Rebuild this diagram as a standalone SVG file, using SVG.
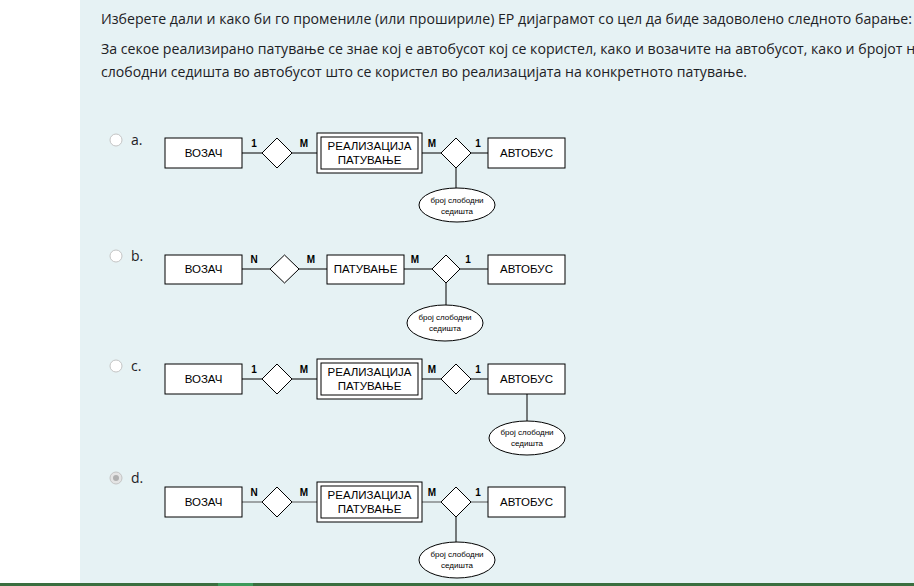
<svg xmlns="http://www.w3.org/2000/svg" width="914" height="586" viewBox="0 0 914 586">
<style>
.hdr{font-family:"Open Sans","Noto Sans",sans-serif;font-size:14px;fill:#1d2125}
.opt{font-family:"Open Sans","Noto Sans",sans-serif;font-size:14px;fill:#1d2125}
.ent{fill:#fff;stroke:#000;stroke-width:1}
.rel{fill:#fff;stroke:#000;stroke-width:1}
.t{font-family:"Liberation Sans",Arial,sans-serif;font-size:11.5px;fill:#000;text-anchor:middle}
.c{font-family:"Liberation Sans",Arial,sans-serif;font-size:10px;font-weight:bold;fill:#000;text-anchor:middle}
.s{font-family:"Liberation Sans",Arial,sans-serif;font-size:8px;fill:#000;text-anchor:middle}
.ln{stroke:#000;stroke-width:1;fill:none}
.lnd{stroke:#555;stroke-width:1;fill:none}
.radio{fill:#fff;stroke:#c4c4c4;stroke-width:1}
</style>
<rect x="0" y="0" width="914" height="586" fill="#fff"/>
<rect x="80" y="0" width="834" height="583" fill="#e6f2f4"/>
<rect x="0" y="583" width="914" height="3" fill="#3a6e3f"/>
<rect x="218" y="583" width="35" height="3" fill="#3d9a5a"/>

<g id="question">
<text class="hdr" x="101" y="24" textLength="811" lengthAdjust="spacingAndGlyphs">Изберете дали и како би го промениле (или прошириле) ЕР дијаграмот со цел да биде задоволено следното барање:</text>
<text class="hdr" x="101" y="54" textLength="822" lengthAdjust="spacingAndGlyphs">За секое реализирано патување се знае кој е автобусот кој се користел, како и возачите на автобусот, како и бројот на</text>
<text class="hdr" x="101" y="77" textLength="646" lengthAdjust="spacingAndGlyphs">слободни седишта во автобусот што се користел во реализацијата на конкретното патување.</text>
</g>

<g id="options">
<circle class="radio" cx="116" cy="140" r="6"/>
<text class="opt" x="131" y="145">a.</text>
<circle class="radio" cx="116" cy="256" r="6"/>
<text class="opt" x="131" y="261">b.</text>
<circle class="radio" cx="116" cy="366" r="6"/>
<text class="opt" x="131" y="371">c.</text>
<circle cx="116" cy="478" r="6" fill="#e4e4e4" stroke="#c4c4c4"/>
<circle cx="116" cy="478" r="3" fill="#b0b0b0"/>
<text class="opt" x="131" y="483">d.</text>
</g>

<!-- Diagram a -->
<g id="connectors-a">
<line class="ln" x1="242" y1="153" x2="262" y2="153"/>
<line class="ln" x1="292" y1="153" x2="317" y2="153"/>
<line class="ln" x1="422" y1="153" x2="441" y2="153"/>
<line class="ln" x1="471" y1="153" x2="488" y2="153"/>
<line class="ln" x1="456" y1="168" x2="456" y2="188"/>
<text class="c" x="254" y="147">1</text>
<text class="c" x="304" y="147">M</text>
<text class="c" x="432" y="147">M</text>
<text class="c" x="478" y="147">1</text>
</g>
<g id="a-vozac"><rect class="ent" x="165" y="138" width="77" height="30"/><text class="t" x="203.5" y="157">ВОЗАЧ</text></g>
<g id="a-rel1"><polygon class="rel" points="277,138 292,153 277,168 262,153"/></g>
<g id="a-realizacija"><rect class="ent" x="317" y="133" width="105" height="40"/><rect class="ent" x="321" y="137" width="97" height="32"/><text class="t" x="369.5" y="150">РЕАЛИЗАЦИЈА</text><text class="t" x="369.5" y="164">ПАТУВАЊЕ</text></g>
<g id="a-rel2"><polygon class="rel" points="456,138 471,153 456,168 441,153"/></g>
<g id="a-avtobus"><rect class="ent" x="488" y="138" width="77" height="30"/><text class="t" x="526.5" y="157">АВТОБУС</text></g>
<g id="a-attr"><ellipse class="ent" cx="457" cy="205" rx="38" ry="17"/><text class="s" x="457" y="203">број слободни</text><text class="s" x="457" y="214">седишта</text></g>

<!-- Diagram b -->
<g id="connectors-b">
<line class="ln" x1="242" y1="269" x2="270" y2="269"/>
<line class="ln" x1="299" y1="269" x2="327" y2="269"/>
<line class="ln" x1="404" y1="269" x2="432" y2="269"/>
<line class="ln" x1="460" y1="269" x2="488" y2="269"/>
<line class="ln" x1="446" y1="283" x2="446" y2="305"/>
<text class="c" x="254" y="263">N</text>
<text class="c" x="311" y="263">M</text>
<text class="c" x="415" y="263">M</text>
<text class="c" x="468" y="263">1</text>
</g>
<g id="b-vozac"><rect class="ent" x="165" y="255" width="77" height="29"/><text class="t" x="203.5" y="273">ВОЗАЧ</text></g>
<g id="b-rel1"><polygon class="rel" points="284.5,255 299,269 284.5,283 270,269"/></g>
<g id="b-patuvanje"><rect class="ent" x="327" y="255" width="77" height="29"/><text class="t" x="365.5" y="273">ПАТУВАЊЕ</text></g>
<g id="b-rel2"><polygon class="rel" points="446,255 460,269 446,283 432,269"/></g>
<g id="b-avtobus"><rect class="ent" x="488" y="255" width="77" height="29"/><text class="t" x="526.5" y="273">АВТОБУС</text></g>
<g id="b-attr"><ellipse class="ent" cx="445" cy="323" rx="38" ry="18"/><text class="s" x="445" y="320">број слободни</text><text class="s" x="445" y="331">седишта</text></g>

<!-- Diagram c -->
<g id="connectors-c">
<line class="ln" x1="242" y1="379" x2="262" y2="379"/>
<line class="ln" x1="292" y1="379" x2="317" y2="379"/>
<line class="ln" x1="422" y1="379" x2="441" y2="379"/>
<line class="ln" x1="471" y1="379" x2="488" y2="379"/>
<line class="ln" x1="527" y1="394" x2="527" y2="421"/>
<text class="c" x="254" y="373">1</text>
<text class="c" x="304" y="373">M</text>
<text class="c" x="432" y="373">M</text>
<text class="c" x="478" y="373">1</text>
</g>
<g id="c-vozac"><rect class="ent" x="165" y="364" width="77" height="30"/><text class="t" x="203.5" y="383">ВОЗАЧ</text></g>
<g id="c-rel1"><polygon class="rel" points="277,364 292,379 277,394 262,379"/></g>
<g id="c-realizacija"><rect class="ent" x="317" y="359" width="105" height="40"/><rect class="ent" x="321" y="363" width="97" height="32"/><text class="t" x="369.5" y="376">РЕАЛИЗАЦИЈА</text><text class="t" x="369.5" y="390">ПАТУВАЊЕ</text></g>
<g id="c-rel2"><polygon class="rel" points="456,364 471,379 456,394 441,379"/></g>
<g id="c-avtobus"><rect class="ent" x="488" y="364" width="77" height="30"/><text class="t" x="526.5" y="383">АВТОБУС</text></g>
<g id="c-attr"><ellipse class="ent" cx="527" cy="438" rx="38" ry="17"/><text class="s" x="527" y="435">број слободни</text><text class="s" x="527" y="446">седишта</text></g>

<!-- Diagram d -->
<g id="connectors-d">
<line class="lnd" x1="242" y1="502" x2="262" y2="502"/>
<line class="lnd" x1="292" y1="502" x2="317" y2="502"/>
<line class="lnd" x1="422" y1="502" x2="441" y2="502"/>
<line class="lnd" x1="471" y1="502" x2="488" y2="502"/>
<line class="ln" x1="456" y1="517" x2="456" y2="542"/>
<text class="c" x="254" y="496">N</text>
<text class="c" x="304" y="496">M</text>
<text class="c" x="432" y="496">M</text>
<text class="c" x="478" y="496">1</text>
</g>
<g id="d-vozac"><rect class="ent" x="165" y="487" width="77" height="30"/><text class="t" x="203.5" y="506">ВОЗАЧ</text></g>
<g id="d-rel1"><polygon class="rel" points="277,487 292,502 277,517 262,502"/></g>
<g id="d-realizacija"><rect class="ent" x="317" y="482" width="105" height="40"/><rect class="ent" x="321" y="486" width="97" height="32"/><text class="t" x="369.5" y="499">РЕАЛИЗАЦИЈА</text><text class="t" x="369.5" y="513">ПАТУВАЊЕ</text></g>
<g id="d-rel2"><polygon class="rel" points="456,487 471,502 456,517 441,502"/></g>
<g id="d-avtobus"><rect class="ent" x="488" y="487" width="77" height="30"/><text class="t" x="526.5" y="506">АВТОБУС</text></g>
<g id="d-attr"><ellipse class="ent" cx="457" cy="560" rx="38" ry="18"/><text class="s" x="457" y="557">број слободни</text><text class="s" x="457" y="568">седишта</text></g>
</svg>
